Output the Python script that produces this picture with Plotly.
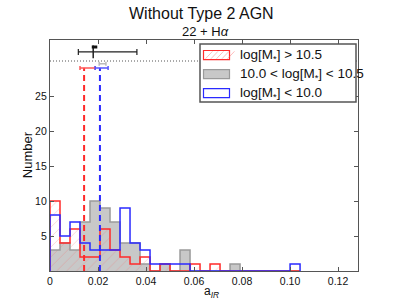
import plotly.graph_objects as go

# ---------------- data ----------------
bin_width = 1.0 / 240.0
n_bins = 25
red_counts = [10, 4, 6, 2, 2, 6, 3, 2, 1, 2, 0, 1, 0, 0, 1, 0, 1, 0, 0, 0, 0, 0, 0, 0, 0]
gray_counts = [3, 4, 3, 7, 10, 9, 7, 4, 4, 1, 0, 1, 0, 3, 0, 0, 0, 0, 1, 0, 0, 0, 0, 0, 0]
blue_counts = [8, 5, 7, 4, 3, 3, 3, 9, 4, 3, 1, 1, 1, 1, 0, 0, 0, 0, 0, 0, 0, 0, 0, 0, 1]

series_names = ["log[M<sub>*</sub>] > 10.5", "10.0 < log[M<sub>*</sub>] < 10.5", "log[M<sub>*</sub>] < 10.0"]

# medians and their errors (drawn at y = 29)
red_median, red_lo, red_hi = 0.0142, 0.0125, 0.0188
blue_median, blue_lo, blue_hi = 0.0208, 0.0188, 0.0242
gray_median, gray_lo, gray_hi = 0.0212, 0.0205, 0.0233
median_level = 29.0
gray_median_level = 29.6

# overall value with error (top)
all_center, all_lo, all_hi, all_level = 0.0180, 0.0118, 0.0362, 31.3
short_lo, short_hi, short_level = 0.0174, 0.0197, 32.0
dotted_level = 30.0

x_ticks = [0, 0.02, 0.04, 0.06, 0.08, 0.10, 0.12]
x_tick_labels = ["0", "0.02", "0.04", "0.06", "0.08", "0.10", "0.12"]
y_ticks = [5, 10, 15, 20, 25]

# ---------------- styles ----------------
RED = "#ff2a2a"
BLUE = "#2a2aff"
GRAY_FILL = "#c8c8c8"
GRAY_EDGE = "#9a9a9a"
FONT = "Liberation Sans, Arial, sans-serif"

edges = [i * bin_width for i in range(n_bins + 1)]
centers = [(edges[i] + edges[i + 1]) / 2 for i in range(n_bins)]


def step_xy(counts):
    xs = [edges[0]] + edges[:len(counts)] + [edges[len(counts)]]
    ys = [0] + list(counts) + [0]
    return xs, ys


fig = go.Figure()

# gray filled histogram
fig.add_trace(go.Bar(x=centers, y=gray_counts, width=bin_width,
                     marker=dict(color=GRAY_FILL, line=dict(width=0)),
                     showlegend=False, hoverinfo="skip"))
# red hatched histogram
fig.add_trace(go.Bar(x=centers, y=red_counts, width=bin_width,
                     marker=dict(color="rgba(0,0,0,0)", line=dict(width=0),
                                 pattern=dict(shape="/", fgcolor="rgba(255,90,90,0.55)",
                                              bgcolor="rgba(0,0,0,0)", size=7, solidity=0.12)),
                     showlegend=False, hoverinfo="skip"))

for counts, col, w in [(gray_counts, GRAY_EDGE, 1.5), (red_counts, RED, 1.5), (blue_counts, BLUE, 1.5)]:
    xs, ys = step_xy(counts)
    fig.add_trace(go.Scatter(x=xs, y=ys, mode="lines", line=dict(color=col, width=w, shape="hv"),
                             showlegend=False, hoverinfo="skip"))

# median dashed lines
for med, col in [(red_median, RED), (blue_median, BLUE)]:
    fig.add_trace(go.Scatter(x=[med, med], y=[0, median_level], mode="lines",
                             line=dict(color=col, width=2, dash="6px,4px"),
                             showlegend=False, hoverinfo="skip"))

# median error bars
for med, lo, hi, lvl, col in [(red_median, red_lo, red_hi, median_level, "#ff5555"),
                              (blue_median, blue_lo, blue_hi, median_level, "#5555ff"),
                              (gray_median, gray_lo, gray_hi, gray_median_level, "#bbbbbb")]:
    fig.add_trace(go.Scatter(x=[med], y=[lvl], mode="markers",
                             marker=dict(size=1, color=col),
                             error_x=dict(type="data", symmetric=False, array=[hi - med],
                                          arrayminus=[med - lo], color=col, thickness=1.5, width=2),
                             showlegend=False, hoverinfo="skip"))

# overall error bar
fig.add_trace(go.Scatter(x=[all_center], y=[all_level], mode="markers",
                         marker=dict(symbol="line-ns", size=9, color="#222",
                                     line=dict(width=1.5, color="#222")),
                         error_x=dict(type="data", symmetric=False, array=[all_hi - all_center],
                                      arrayminus=[all_center - all_lo], color="#222",
                                      thickness=1.2, width=3),
                         showlegend=False, hoverinfo="skip"))
fig.add_trace(go.Scatter(x=[short_lo, short_hi], y=[short_level, short_level], mode="lines",
                         line=dict(color="#111", width=3), showlegend=False, hoverinfo="skip"))

# dotted reference line
fig.add_trace(go.Scatter(x=[0, 0.1283], y=[dotted_level, dotted_level], mode="lines",
                         line=dict(color="#555", width=1, dash="1px,2px"),
                         showlegend=False, hoverinfo="skip"))

# ---------------- manual legend (pixel helpers) ----------------
X0, X1, Y0, Y1 = 50, 358, 40, 270.7


def px(xp):
    return (xp - X0) / (X1 - X0)


def py(yp):
    return (Y1 - yp) / (Y1 - Y0)


shapes = [dict(type="rect", xref="paper", yref="paper", x0=px(200), x1=px(356), y0=py(44), y1=py(102),
               line=dict(color="#555", width=1.5), fillcolor="white", layer="above")]
rows = [55, 74, 93]
sw_x0, sw_x1 = 203.5, 229.5
# red hatched swatch
y_top, y_bot = rows[0] - 4.5, rows[0] + 4.5
shapes.append(dict(type="rect", xref="paper", yref="paper", x0=px(sw_x0), x1=px(sw_x1),
                   y0=py(y_bot), y1=py(y_top), line=dict(color=RED, width=1.2),
                   fillcolor="rgba(0,0,0,0)", layer="above"))
for k in range(5):
    xa = sw_x0 + 2 + k * 5.5
    shapes.append(dict(type="line", xref="paper", yref="paper", x0=px(xa), x1=px(xa + 7),
                       y0=py(y_bot - 0.8), y1=py(y_top + 0.8),
                       line=dict(color="rgba(255,90,90,0.5)", width=0.8), layer="above"))
# gray swatch
shapes.append(dict(type="rect", xref="paper", yref="paper", x0=px(sw_x0), x1=px(sw_x1),
                   y0=py(rows[1] + 4.5), y1=py(rows[1] - 4.5), line=dict(color=GRAY_EDGE, width=1.2),
                   fillcolor=GRAY_FILL, layer="above"))
# blue swatch
shapes.append(dict(type="rect", xref="paper", yref="paper", x0=px(sw_x0), x1=px(sw_x1),
                   y0=py(rows[2] + 4.5), y1=py(rows[2] - 4.5), line=dict(color=BLUE, width=1.2),
                   fillcolor="rgba(0,0,0,0)", layer="above"))

annotations = []
for r, name in zip(rows, series_names):
    annotations.append(dict(xref="paper", yref="paper", x=px(237.5), y=py(r + 0.5), text=name,
                            showarrow=False, xanchor="left", yanchor="middle",
                            font=dict(size=13.5, color="#111", family=FONT)))

annotations += [
    dict(xref="paper", yref="paper", x=px(201), y=py(13.5), text="Without Type 2 AGN",
         showarrow=False, xanchor="center", yanchor="middle", font=dict(size=16, color="#111", family=FONT)),
    dict(xref="paper", yref="paper", x=px(206), y=py(32), text="22 + H<i>α</i>",
         showarrow=False, xanchor="center", yanchor="middle", font=dict(size=13, color="#111", family=FONT)),
    dict(xref="paper", yref="paper", x=px(211), y=py(292), text="a<sub><i>IR</i></sub>",
         showarrow=False, xanchor="center", yanchor="middle", font=dict(size=12, color="#111", family=FONT)),
    dict(xref="paper", yref="paper", x=px(27), y=py(155), text="Number", textangle=-90,
         showarrow=False, xanchor="center", yanchor="middle", font=dict(size=13, color="#111", family=FONT)),
]

fig.update_layout(
    width=401, height=301,
    margin=dict(l=X0, r=401 - X1, t=Y0, b=301 - Y1),
    plot_bgcolor="white", paper_bgcolor="white",
    barmode="overlay", bargap=0,
    showlegend=False,
    shapes=shapes, annotations=annotations,
    font=dict(family=FONT, size=10, color="#111"),
    xaxis=dict(range=[0, 0.1283], tickvals=x_ticks, ticktext=x_tick_labels, ticks="inside",
               ticklen=4, tickcolor="#555", showline=True, linecolor="#555", linewidth=1.2,
               mirror="allticks", showgrid=False, zeroline=False, layer="above traces",
               tickfont=dict(size=10.5, family=FONT, color="#111")),
    yaxis=dict(range=[0, 33], tickvals=y_ticks, ticks="inside", ticklen=4, tickcolor="#555",
               showline=True, linecolor="#555", linewidth=1.2, mirror="allticks", showgrid=False,
               zeroline=False, layer="above traces",
               tickfont=dict(size=10.5, family=FONT, color="#111")),
)

fig.write_html("out.html", config={"displayModeBar": False},
               post_script="document.body.style.margin='0';document.body.style.overflow='hidden';")
